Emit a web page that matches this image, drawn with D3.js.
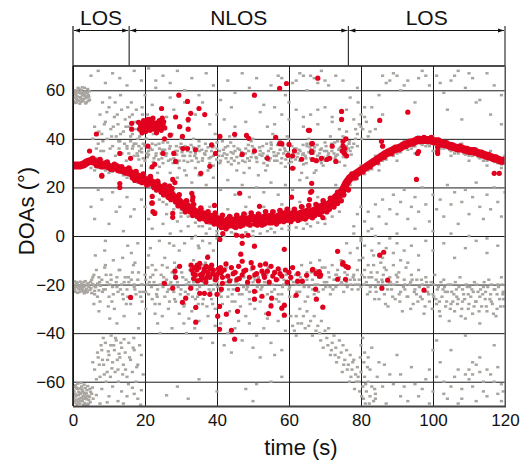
<!DOCTYPE html>
<html><head><meta charset="utf-8">
<script src="https://cdn.jsdelivr.net/npm/d3@7"></script>
<style>html,body{margin:0;padding:0;background:#fff;}svg{display:block;font-family:"Liberation Sans",Arial,sans-serif;}</style>
</head><body>
<svg id="chart" width="521" height="461"></svg>
<script>
// ---------- data ----------
const xTicks = [0, 20, 40, 60, 80, 100, 120];
const yTicks = [-60, -40, -20, 0, 20, 40, 60];
const xLabel = "time (s)";
const yLabel = "DOAs (°)";
const regionLabels = ["LOS", "NLOS", "LOS"];
const regionBounds = [0, 15.6, 76.5, 120];

// main estimated DOA track (time s, DOA deg)
const redTrack = [[0,29],[1,29],[2,29],[3,29.5],[4,30.5],[5,31],[6,30.5],[7,30],[8,29],[9,29.5],[10,28.5],[11,28],[12,28.5],[13,27.5],[14,27],[15,26.5],[16,26],[17,25],[18,24.5],[19,24],[20,23],[21,23],[22,22],[23,21],[24,20],[25,19],[26,18],[27,17.5],[28,16],[29,15],[30,13.5],[31,12.5],[32,12],[33,11],[34,10],[35,9.5],[36,9],[37,8.5],[38,8],[39,7.5],[40,7],[41,6.5],[42,5],[43,6.5],[44,6],[45,6.5],[46,6],[47,7],[48,6.5],[49,7],[50,7.5],[51,7],[52,6.5],[53,7.5],[54,7.5],[55,8],[56,7],[57,8],[58,8.5],[59,9],[60,8],[61,9],[62,8.5],[63,9],[64,9.5],[65,10],[66,9.5],[67,10.5],[68,11],[69,12],[70,12.5],[71,13],[72,14],[73,16],[74,17],[75,19],[76,22],[77,24],[78,25],[79,26],[80,27],[81,28],[82,29],[83,30],[84,31],[85,32],[86,33],[87,34],[88,34.5],[89,35.5],[90,36],[91,36.5],[92,37.5],[93,38],[94,38.5],[95,39],[96,39.5],[97,39.5],[98,39.5],[99,39.5],[100,39],[101,39],[102,38.5],[103,38],[104,37.5],[105,37],[106,36.5],[107,36],[108,36],[109,35.5],[110,35],[111,35],[112,34.5],[113,34],[114,33.5],[115,33],[116,32.5],[117,32],[118,31.5],[119,31],[120,31]];

// red points scattered around the track
const redJitter = [[5.5,32],[6.5,29],[7.5,31.5],[8.5,28.5],[9.5,30.5],[10.5,27.5],[11.5,29.5],[12.5,27],[13.5,28.5],[14.5,26],[15.5,28],[16.5,24],[17.5,26.5],[18.5,22.5],[19.5,25.5],[20.5,21],[21.5,24.5],[22.5,20],[23.5,22.5],[24.5,18],[25.5,21],[26.5,16],[27.5,19.5],[28.5,14],[29.5,17],[30.5,11.5],[31.5,14.5],[32.5,10],[33.5,13],[34.5,8],[35.5,11.5],[36.5,7],[37.5,10],[38.5,6],[39.5,9.5],[40.5,4.5],[41.5,8.5],[42.5,3],[43.5,8],[44.5,4],[45.5,8.5],[46.5,4],[47.5,9],[48.5,5],[49.5,9.5],[50.5,5],[51.5,9],[52.5,4.5],[53.5,10],[54.5,5.5],[55.5,10],[56.5,5],[57.5,10.5],[58.5,6],[59.5,11],[60.5,6],[61.5,11],[62.5,6.5],[63.5,12],[64.5,7],[65.5,12.5],[66.5,7.5],[67.5,13],[68.5,9],[69.5,14.5],[70.5,10],[71.5,15.5],[72.5,12],[73.5,18],[74.5,14.5],[75.5,21],[76.5,19],[77.5,25.5],[78.5,24],[79.5,27],[80.5,26.5],[81.5,29],[82.5,28.5],[83.5,31],[84.5,30.5],[85.5,33],[86.5,32.5],[87.5,35],[88.5,34],[89.5,36.5],[90.5,35.5],[91.5,37.5],[92.5,37],[93.5,39],[94.5,38],[95.5,40],[96.5,39],[97.5,40.5],[98.5,39],[99.5,40.5],[100.5,38.5],[101.5,39.5],[102.5,37.5],[103.5,38.5],[104.5,36.8],[105.5,37.5],[106.5,35.8],[107.5,37],[108.5,35.2],[109.5,36],[110.5,34.5],[111.5,35.5],[112.5,33.8],[113.5,34.5],[114.5,32.8],[115.5,33.5],[116.5,31.8],[117.5,32.5],[118.5,30.8],[119.5,31.5],
[17.2,23],[19.2,22],[21.2,21.5],[23.2,19],[25.2,17],[27.2,15],[29.2,12.5],[31.2,10],[33.2,8.5],[35.2,7],[37.2,6],[39.2,5],[41.2,3.5],[43.2,4],[45.2,3.5],[47.2,4.5],[49.2,4.5],[51.2,4.5],[53.2,5],[55.2,5.5],[57.2,6],[59.2,6.5],[61.2,7],[63.2,7],[65.2,8],[67.2,8.5],[69.2,10],[71.2,11],[73.2,14],[75.2,17]];

// isolated red estimates
const redOutliers = [[6.5,42],[4.6,35],[8,24.6],[13,34],[16,32],[13,21.6],[13,20],[8,25],[16.3,46.4],[16.3,44],[29.4,58],[24.6,52.5],[31.8,55.4],[35,52.5],[32.7,50.5],[28.5,49],[32,48],[36.6,50],[29.6,45],[32,44],[30.4,41],[25.4,40],[27,41.5],[31.8,36],[30.5,36],[34,35.5],[28,34],[25,34],[20.8,37],[22.7,29.5],[22,28.5],[28.5,30.7],[35.5,25.8],[27.7,23.3],[28.3,22],[26.8,20.5],[33,17.6],[33.3,16],[22,16.3],[22,13.6],[22.7,9.3],[27.7,9.3],[39.6,34],[40.8,41],[38,28.7],[38.5,37.5],
[18.5,44],[19,46],[19.5,45],[20,47],[20.5,44.5],[21,46],[21.5,45],[22,47],[22.5,44],[23,46.5],[23.5,45],[24,47.5],[24.5,43.5],[25,46],[25.5,44.5],[19.2,42.5],[21.2,48],[23.2,42.5],[24.8,48.5],[20.2,43],[22.2,48.5],
[18.8,45.5],[19.6,47.5],[20.4,46],[21.4,43.5],[22.4,46.5],[23.4,44],[24.2,46],[25.2,47],[18.2,46.8],[19.8,44],[21.8,44.5],[22.8,45.5],[23.8,47],[20.8,48],[24.5,45],
[59.3,62.8],[57.4,60.8],[68,65],[50.4,58],[74.6,51.3],[74.6,48],[65.4,43.5],[44.9,41.9],[48.2,41.4],[48.8,40.2],[56.3,40.6],[75,37],[75,39],[75.4,34],[57.4,38],[60,37.7],[66.5,38],[72,37],[50.4,35],[61.5,35],[67.6,31],[69,32],[70.5,31.5],[71.3,32],[54,32],[47,33.6],[73,30.7],[63.5,31.6],[58,38],[59.7,33.2],[61,33],[61,27.9],[66.3,34.4],[66.6,31.5],[66.3,21.7],[66.3,18.4],[60.7,16],[51.8,12.2],[46.3,17.6],[39.3,12.6],[33.2,14.7],[21.9,13.5],[22.2,10],[27.7,7.7],[45.4,0.3],[41.6,1],[48.6,0.3],[58,7.3],[65.7,43.5],[66.3,38],[66.3,35],[69.4,7.6],[65.7,15],[66,18],[73.5,13.4],[75.5,36],[76,33],[75.8,40],[74.8,35],
[117,25.8],[118.4,25.8],[95.4,23.3],[85.7,39],[86,37],[93,51],[85.2,47.6],[95.7,34],[96,34.8],[101.3,36.5],[101.3,35],[101.3,34],
[16,-25.3],[28.3,-14.5],[29.6,-12.5],[25.4,-19.5],[27.7,-21.5],[28.5,-17],[30.4,-27.3],[31.3,-25.6],[32.7,-21.5],[34.1,-29.4],[34.1,-35.5],[35.2,-11.3],[37.4,-8.8],[40.8,-1.4],[35.2,-23.6],[36.5,-23.6],[38,-24],[40,-24],[40.2,-33],[40.7,-38.4],
[33,-14],[34,-16],[35,-13],[36,-15.5],[37,-12.5],[38,-17],[39,-14],[40,-16],[41,-13],[33.5,-17.5],[34.5,-12],[35.5,-18],[36.5,-13.5],[37.5,-15],[38.5,-12],[39.5,-18],[40.5,-15],[41.5,-17],[32.8,-12],[36.8,-17.5],[38.8,-15.5],
[33.4,-15.5],[34.4,-14],[35.4,-16],[36.4,-14.5],[37.4,-16.5],[38.4,-13.5],[39.4,-16],[40.4,-13.5],[33.8,-13],[35.8,-17],[37.8,-13],[39.8,-17.5],[41.2,-15],[34.6,-18.5],[36.9,-19],
[47,0],[47,-3],[50.4,-4.2],[46.6,-7.5],[47,-10.4],[58.7,-5.5],[73.5,-6.3],[74.9,-11.6],[76.4,-12.9],[66.6,-13.7],[68.4,-14.7],[68.8,-16],[64.9,-16.2],[67.6,-15.4],[62.4,-18.6],[63.7,-18.6],[73.5,-17.8],[75.7,-17.8],[67.4,-21.9],[62,-24.4],[67.6,-26],[69.4,-29.3],[52.5,-24.8],[55.2,-25.6],[55,-28.8],[58,-29.7],[58.7,-28.5],[58.7,-32.6],[54.3,-32],[50.4,-26],[45.7,-31],[42.6,-32.2],[44,-38.8],[44.9,-42.5],[40.7,-29],[41.2,-21.9],[41.5,-19.5],[45.7,-22],[50.4,-22.8],
[42,-14],[43,-16.5],[44,-13],[45,-15],[46,-12.5],[47,-16],[48,-14],[49,-17],[50,-13],[51,-15.5],[52,-12],[53,-16],[54,-14.5],[55,-12.5],[56,-15],[57,-13.5],[58,-16.5],[59,-14],[60,-15],[61,-13],[43.5,-18.5],[45.5,-18],[48.5,-19],[51.5,-18.5],[54.5,-19],[56.5,-18],[59.5,-19],[42.5,-11.5],[49.5,-11],[53.5,-11.5],
[44.5,-15.5],[47.5,-14.5],[50.5,-16],[52.5,-14.5],[55.5,-16.5],[57.5,-15.5],[60.5,-17],[62.5,-15.5],[46.2,-17.5],[53.2,-17],
[85.2,-7.9],[86.3,-6.7],[87.4,-18.2],[85.8,-21.5],[97.5,-22.3],[75,-11],[75.8,-12.5],[76.4,-13],[66.5,-14],[67.5,-15.5],[68.5,-16.6]];

// grey (non-tracked) estimates
const grayPoints = [
[0.3,57],[0.8,58],[1.2,56],[1.6,59],[2.1,57],[2.5,58.5],[3.0,56.5],[3.4,59.5],[3.9,57.5],[4.3,58],[0.5,60],[1.0,55],[1.4,61],[1.9,54.5],[2.3,60],[2.8,55.5],[3.2,61],[3.7,55],[4.1,60.5],[4.6,56],[0.2,55.5],[0.7,59],[1.1,57.5],[1.5,55.8],[2.0,58.8],[2.4,56.2],[2.9,59.2],[3.3,57.8],[3.8,58.9],[4.2,55.6],[0.4,58.6],[0.9,56.6],[1.3,59.8],[1.8,57.2],[2.2,55.2],[2.7,57.9],[3.1,58.3],[3.6,56.8],[4.0,59.1],[4.4,57.1],[0.6,54.8],[1.7,60.6],[2.6,61.2],[3.5,54.6],[4.5,59.6],
[0.3,-20],[0.8,-21],[1.2,-19.5],[1.7,-22],[2.1,-20.5],[2.6,-21.5],[3.0,-19],[3.5,-22.5],[3.9,-20],[4.4,-21],[0.5,-22],[1.0,-19],[1.5,-20.8],[1.9,-23],[2.4,-19.8],[2.8,-22.8],[3.3,-20.6],[3.7,-21.8],[4.2,-19.4],[4.7,-22.2],[0.2,-21.3],[0.7,-23],[1.1,-20.2],[1.6,-21.7],[2.0,-18.8],[2.5,-22.3],[2.9,-20.9],[3.4,-18.6],[3.8,-23.2],[4.3,-20.3],[5.0,-21.5],[5.5,-19.8],[6.0,-22.6],[5.2,-23.5],[5.8,-20.4],[0.4,-18.7],[1.3,-23.4],[2.2,-21.1],[3.1,-23.6],[4.0,-22.9],[4.9,-18.9],[6.3,-21],[6.8,-19.6],[7.2,-22.4],[7.6,-20.5],
[0.3,-64],[0.8,-66],[1.2,-63],[1.7,-67],[2.1,-65],[2.6,-68],[3.0,-64.5],[3.5,-66.5],[3.9,-63.5],[4.4,-67.5],[0.5,-68.5],[1.0,-62.5],[1.5,-65.5],[1.9,-69],[2.4,-62],[2.8,-66],[3.3,-68.8],[3.7,-64.8],[4.2,-65.8],[4.7,-63],[0.2,-66.8],[0.7,-61.5],[1.1,-69.3],[1.6,-64.2],[2.0,-67.8],[2.5,-63.2],[2.9,-69.5],[3.4,-62.6],[3.8,-67.2],[4.3,-69.1],[0.4,-62.2],[0.9,-67.4],[1.4,-68.2],[1.8,-62.8],[2.3,-66.6],[2.7,-64],[3.2,-65.2],[3.6,-69.6],[4.1,-61.8],[4.6,-66.2],[0.6,-65],[1.3,-60.8],[2.2,-60.5],[3.1,-61.2],[4.0,-70],[4.8,-68.4],[5.2,-65],[5.6,-67],[0.1,-63.6],[0.1,-68],[1.9,-64.6],[2.9,-67],[3.9,-66],[4.9,-64.2],[5.4,-62.4],
[6,-55],[7,-50],[7.5,-58],[8,-47],[8.5,-53],[9,-44],[9.5,-56],[10,-49],[10.5,-45],[11,-52],[11.5,-47],[12,-43],[12.5,-55],[13,-50],[13.5,-46],[14,-53],[14.5,-48],[15,-58],[15.5,-44],[16,-51],[16.5,-56],[17,-47],[18,-53],[19,-49],[8.2,-51],[9.8,-47.5],[10.8,-54.5],[11.8,-42],[12.8,-48.5],[13.8,-57],[9.2,-60],[6.5,-59],[14.2,-42.5],[17.5,-60],[5.5,-52],[7.8,-45],
[8,-63],[10,-66],[11,-62],[12.5,-68],[13.5,-64],[15,-66],[16.5,-62.5],[18,-67],[19,-63.5],[9.5,-68.5],[14,-69],[17,-65],[6.5,-65.5],[7.5,-69],[18.8,-69.5],
[5.5,-17],[6,-24],[6.5,-14],[7,-20],[7.5,-27],[8,-18],[8.5,-22],[9,-12],[9.5,-19],[10,-25],[10.5,-16],[11,-21],[11.5,-30],[12,-19],[12.5,-23],[13,-14],[13.5,-20],[14,-26],[14.5,-17],[15,-22],[15.5,-19],[16,-28],[16.5,-15],[17,-21],[17.5,-24],[18,-18],[18.5,-32],[19,-20],[19.5,-23],[20,-16],[6.2,-8],[8.8,-6],[10.2,-34],[12.2,-36],[13.8,-9],[15.2,-4],[17.2,-11],[18.2,-38],[7.2,-31],[9.8,-29],[11.2,-10],[14.2,-33],[16.2,-7],[19.2,-27],[5.8,-28],[20.2,-30],[21,-8],[22,-12],
[20.5,-20],[21,-24],[21.5,-17],[22,-26],[22.5,-19],[23,-14],[23.5,-22],[24,-28],[24.5,-16],[25,-21],[25.5,-25],[26,-18],[26.5,-30],[27,-20],[27.5,-15],[28,-23],[28.5,-27],[29,-19],[29.5,-32],[30,-22],[30.5,-17],[31,-28],[31.5,-20],[32,-24],[32.5,-14],[33,-31],[33.5,-19],[34,-26],[34.5,-22],[35,-35],[35.5,-18],[36,-28],[36.5,-24],[37,-20],[37.5,-33],[38,-16],[38.5,-26],[39,-22],[39.5,-30],[40,-19],[21.5,-5],[23.5,-36],[25.5,-9],[27.5,-38],[29.5,-6],[31.5,-40],[33.5,-10],[35.5,-42],[37.5,-8],[39.5,-37],[24.2,-40],[26.8,-3],[30.8,-36],[34.8,-4],[38.8,-44],[22.8,-32],[28.2,-11],[32.2,-34],[36.2,-12],[24.8,-33],[26.2,-13],[33.8,-38],[37.2,-29],
[40.5,-24],[41,-16],[41.5,-28],[42,-20],[42.5,-13],[43,-25],[43.5,-31],[44,-18],[44.5,-22],[45,-27],[45.5,-15],[46,-20],[46.5,-29],[47,-24],[47.5,-17],[48,-33],[48.5,-21],[49,-26],[49.5,-14],[50,-19],[50.5,-30],[51,-23],[51.5,-17],[52,-27],[52.5,-21],[53,-15],[53.5,-32],[54,-24],[54.5,-19],[55,-28],[55.5,-16],[56,-22],[56.5,-26],[57,-18],[57.5,-14],[58,-24],[58.5,-20],[59,-29],[59.5,-15],[60,-22],[60.5,-18],[61,-13],[61.5,-25],[62,-20],[62.5,-16],[63,-23],[63.5,-12],[64,-19],[64.5,-27],[65,-15],[65.5,-21],[66,-11],[66.5,-18],[67,-24],[67.5,-14],[68,-20],[68.5,-10],[69,-17],[69.5,-22],[70,-13],[70.5,-19],[71,-15],[71.5,-24],[72,-12],[72.5,-18],[73,-21],[73.5,-14],[74,-17],[74.5,-10],[75,-20],[75.5,-15],[76,-19],[76.5,-13],[77,-18],[77.5,-22],[78,-16],[78.5,-20],[79,-14],[79.5,-18],[80,-21],
[41,-36],[43,-40],[45,-38],[47,-43],[49,-36],[51,-41],[53,-38],[55,-44],[57,-35],[59,-39],[61,-37],[62,-41],[60.5,-33],[61.5,-39],[62.5,-36],[42,-45],[46,-35],[50,-46],[54,-34],[58,-47],[44,-48],[52,-50],[56,-49],
[63,-30],[64,-33],[65,-31],[66,-35],[67,-33],[68,-37],[68.5,-40],[69,-35],[70,-39],[70.5,-42],[71,-38],[72,-44],[72.5,-41],[73,-46],[74,-43],[74.5,-48],[75,-45],[75.5,-51],[76,-47],[76.5,-53],[77,-49],[77.5,-55],[78,-51],[78.5,-57],[79,-54],[79.5,-60],[80,-56],[80.5,-62],[81,-58],[81.5,-64],[82,-60],[82.5,-66],[83,-62],[83.5,-68],[84,-65],[79.8,-50],[80.8,-52],[81.8,-54],[80.2,-66],[81.2,-69],[78.2,-63],[76.8,-60],[74.8,-56],[73.2,-52],[71.5,-49],[69.5,-46],[66.5,-41],[64.5,-38],
[48,-63],[55,-60],[50,-68],[58,-58],[29,-62],[26,-65.6],[35,-59],[40,-64],[32,-67],[51,-61],
[80.5,-9],[81,-14],[81.5,-19],[82,-12],[82.5,-23],[83,-17],[83.5,-8],[84,-21],[84.5,-15],[85,-26],[85.5,-11],[86,-19],[86.5,-24],[87,-14],[87.5,-29],[88,-17],[88.5,-22],[89,-12],[89.5,-26],[90,-19],[90.5,-15],[91,-23],[91.5,-31],[92,-18],[92.5,-13],[93,-25],[93.5,-20],[94,-16],[94.5,-28],[95,-22],[95.5,-18],[96,-14],[96.5,-25],[97,-20],[97.5,-32],[98,-17],[98.5,-23],[99,-27],[99.5,-19],[100,-24],[100.5,-16],[101,-28],[101.5,-21],[102,-33],[102.5,-25],[103,-18],[103.5,-29],[104,-23],[104.5,-35],[105,-20],[105.5,-27],[106,-31],[106.5,-22],[107,-26],[107.5,-17],[108,-30],[108.5,-24],[109,-34],[109.5,-21],[110,-28],[110.5,-25],[111,-32],[111.5,-19],[112,-27],[112.5,-23],[113,-36],[113.5,-29],[114,-21],[114.5,-26],[115,-31],[115.5,-18],[116,-24],[116.5,-28],[117,-22],[117.5,-33],[118,-20],[118.5,-26],[119,-17],[119.5,-23],[119.8,-29],
[100.2,-20],[101.2,-22],[102.2,-19],[103.2,-21],[104.2,-20],[105.2,-23],[106.2,-19],[107.2,-21],[108.2,-22],[109.2,-20],[110.2,-21],[111.2,-23],[112.2,-20],[113.2,-22],[114.2,-19],[115.2,-21],[116.2,-20],[117.2,-22],[118.2,-21],[119.2,-20],[80.2,-16],[82.2,-17],[84.2,-18],[86.2,-16],[88.2,-19],[90.2,-17],[92.2,-20],[94.2,-18],[96.2,-21],[98.2,-19],
[76,-3],[77,-7],[78,1],[79,-5],[80,-1],[81,-4],[82,2],[83,-6],[84,0],[85,-3],[86,-9],[87,-5],[88,-1],[89,-7],[90,-3],[91,-10],[92,-6],[93,-11],[94,-4],[96,-8],[98,-2],[100,-6],[103,-3],[106,-9],[109,-5],[112,-2],[115,-7],[118,-4],[83.5,-12],[86.5,-13],[79.5,-10],
[80,-45],[81,-48],[80.5,-42],[82,-50],[83,-46],[85,-52],[88,-57],[90,-49],[92,-62],[94,-54],[96,-66],[98,-59],[100,-64],[102,-52],[104,-67],[106,-58],[108,-63],[110,-55],[112,-68],[114,-60],[116,-57],[118,-65],[119,-61],[101,-43],[105,-47],[109,-41],[113,-50],[117,-45],[86,-62],[84,-67],[87,-69],[91,-66],[95,-61],[99,-69],[103,-60],[107,-69],[111,-62],[115,-66],[119,-68],[112,-53],[109,-57],[111,-52],[113,-56],[110,-59],
[6,45],[7,38],[7.5,50],[8,42],[8.5,35],[9,47],[9.5,40],[10,53],[10.5,44],[11,37],[11.5,49],[12,41],[12.5,46],[13,39],[13.5,52],[14,43],[14.5,48],[15,36],[15.5,45],[16,41],[16.5,50],[17,38],[17.5,44],[18,40],[18.5,47],[19,42],[19.5,38],[20,44],[6.5,32],[9.2,30],[11.8,33],[14.8,31],[17.8,34],[10.2,57],[13.2,58],[16.2,55],[19.2,53],[8.2,55],[5.5,40],[12.8,36],
[5,66],[7,68],[9,63],[11,67],[13,65],[15,62],[17,68],[19,64],[21,69],[23,61],[25,66],[27,63],[29,68],[31,60],[33,65],[35,58],[37,67],[39,62],[41,56],[43,64],[45,59],[47,67],[49,61],[51,65],[53,54],[55,62],[57,66],[59,58],[61,63],[63,67],[65,60],[67,65],[69,68],[71,62],[73,66],[75,64],[77,57],[79,61],[81,49],[83,53],[85,58],[87,63],[89,67],[91,60],[93,64],[95,55],[97,68],[99,62],[101,66],[103,59],[105,64],[107,68],[109,61],[111,65],[113,56],[115,67],[117,62],[119,58],[28,52],[32,47],[36,55],[40,50],[44,53],[48,47],[52,51],[56,46],[60,55],[64,49],[68,52],[72,47],[76,43],[78,48],[80,45],[82,41],[84,44],[86,50],[104,52],[108,48],[112,55],[116,50],[119,46],[62,64],[66,66],[70,64],[64,66],[68,63],[58,65],[86,66],[88,64],[90,66],[92,62],[96,65],[98,66],[106,66],[110,67],[102,63],
[18,33],[19,36],[20,31],[21,35],[22,38],[23,33],[24,36],[25,30],[26,34],[27,37],[28,32],[29,35],[30,38],[31,33],[32,36],[33,31],[34,34],[35,37],[36,32],[37,35],[38,30],[39,33],[40,36],[41,31],[42,34],[43,37],[44,32],[45,35],[46,30],[47,33],[48,36],[49,31],[50,34],[51,32],[52,35],[53,30],[54,33],[55,36],[56,31],[57,34],[58,32],[59,35],[60,30],[61,33],[62,36],[63,31],[64,34],[65,37],[66,32],[67,35],[68,33],[69,36],[70,31],[71,34],[72,37],[73,33],[74,36],[75,34],[76,37],[77,35],
[20.5,34],[22.5,32],[24.5,34],[26.5,31],[28.5,35],[30.5,33],[32.5,33],[34.5,36],[36.5,34],[38.5,35],[40.5,33],[42.5,32],[44.5,34],[46.5,33],[48.5,32],[50.5,35],[52.5,33],[54.5,31],[56.5,33],[58.5,34],[60.5,32],[62.5,34],[64.5,33],[66.5,35],[68.5,34],[70.5,35],[72.5,34],[74.5,35],[76.5,36],[78,38],
[21.5,28],[25.5,40],[29.5,28],[33.5,40],[37.5,27],[41.5,39],[45.5,27],[49.5,39],[53.5,27],[57.5,39],[61.5,28],[65.5,40],[69.5,29],[73.5,39],[23.5,26],[31.5,25],[39.5,42],[47.5,26],[55.5,42],[63.5,26],[71.5,41],[27.5,42],[35.5,25],[43.5,41],[51.5,25],[59.5,41],[67.5,27],[75.5,29],
[6,27],[8,31],[10,26],[12,29],[14,25],[16,28],[18,22],[20,25],[22,20],[24,22],[26,16],[28,18],[30,11],[32,14],[34,8],[36,11],[38,5],[40,9],[42,3],[44,8],[46,4],[48,9],[50,5],[52,9],[54,5],[56,10],[58,6],[60,11],[62,7],[64,12],[66,8],[68,13],[70,10],[72,16],[74,14],[76,20],[78,23],[80,29],[82,27],[84,33],[86,31],[88,36],[90,34],[92,39],[94,36],[96,41],[98,37],[100,41],[102,36],[104,39],[106,34],[108,38],[110,33],[112,36],[114,31],[116,35],[118,30],[120,33],
[25,14],[30,8],[35,4],[40,2],[45,1],[50,2],[55,3],[60,4],[65,5],[70,7],[27,21],[33,17],[38,12],[43,11],[48,12],[53,12],[58,13],[63,14],[68,16],[73,21],[85,27],[90,31],[95,34],[100,35],[105,33],[110,31],[115,29],[119,28],
[78,4],[79,9],[80,12],[81,6],[82,10],[83,3],[84,13],[85,8],[86,15],[87,5],[88,11],[89,17],[90,9],[91,14],[92,19],[93,7],[94,12],[95,16],[96,10],[97,20],[98,13],[99,6],[100,17],[101,11],[102,15],[103,8],[104,21],[105,13],[106,18],[107,5],[108,14],[109,19],[110,9],[111,16],[112,22],[113,12],[114,7],[115,17],[116,11],[117,20],[118,14],[119,8],[120,18],[80,-2],[90,1],[100,2],[110,0],[95,3],[105,1],[115,-1],
[20,12],[21,7],[22,3],[23,10],[24,-2],[25,5],[26,9],[27,1],[28,-4],[29,6],[30,2],[31,-3],[32,4],[33,-1],[34,0],[35,-5],[36,-2],[37,1],[38,-3],[39,-6],[40,-1],[10,5],[12,10],[14,2],[16,8],[18,-3],[8,15],[11,18],[13,12],[15,16],[17,11],[19,15],[6,7],[9,-2],[7,19],[5,12],
[27,26],[29,24],[31,27],[33,22],[35,25],[37,21],[39,24],[41,19],[43,23],[45,17],[47,21],[49,16],[51,20],[53,18],[55,22],[57,17],[59,21],[61,19],[63,23],[65,24],[67,26],
[60,48],[62,52],[64,45],[66,50],[68,46],[70,53],[72,49],[74,44],[76,52],[58,50],[56,53],[54,45],[45,45],[42,48],[38,46],[34,50],[30,45],[26,49],[22,54],[20,58],[23,64],[27,57],[31,55],
[79,42],[79.5,46],[80,50],[80.5,44],[81,53],[79.2,55],[80.2,40],[81.5,47],[82.5,43],[78.5,44]];

// more grey estimates in the densest bands
const grayPoints2 = [
[15,37],[15.5,34],[16,39],[16.5,36],[17,33],[17.5,38],[18.5,35],[19.5,32],[20,37],[21,33.5],[22,35.5],[23,37.5],[23.8,31.5],[24.8,35.5],[25.8,33],[26.8,36],[27.8,30],[28.8,33.5],[29.8,36.5],[30.8,31],[31.8,35],[32.8,37.5],[33.8,33],[34.8,30.5],[35.8,35.5],[36.8,38],[37.8,32],[38.8,36.5],[39.8,34],[40.8,30],[41.8,35.5],[42.8,33.5],[43.8,38.5],[44.8,31],[45.8,36],[46.8,34.5],[47.8,30.5],[48.8,35],[49.8,37],[50.8,32.5],[51.8,36.5],[52.8,34],[53.8,38],[54.8,32],[55.8,34.5],[56.8,37.5],[57.8,30],[58.8,36],[59.8,33],[60.8,37],[61.8,31.5],[62.8,35.5],[63.8,33.5],[64.8,30],[65.8,36.5],[66.8,34],[67.8,37.5],[68.8,31],[69.8,35],[70.8,33],[71.8,38],[72.8,32],[73.8,35.5],[74.8,38],[75.8,32.5],[76.8,39],[77.5,36.5],[78.5,40],[79,37],[16.5,42],[18.5,41],[20.5,40],[25,38.5],[30,40],[35,39],[40,38.5],[45,41],[50,40],[55,38.5],[60,40],[65,38],[70,38.5],[75,41],[19,29],[24,28.5],[29,30],[34,28],[39,29],[44,29.5],[49,28],[54,29],[59,28.5],[64,29.5],[69,30],[74,30.5],
[5,28],[7,28],[9,27],[11,26.5],[13,26],[15,24],[17,22.5],[19,21.5],[21,20.5],[23,18.5],[25,16.5],[27,15],[29,12.5],[31,10],[33,8.5],[35,7],[37,6],[39,5],[41,4],[43,3.5],[45,4],[47,4.5],[49,4.5],[51,4.5],[53,5],[55,5.5],[57,5.5],[59,6.5],[61,6.5],[63,7],[65,7.5],[67,8],[69,9.5],[71,10.5],[73,13],[75,16],[77,21],[79,23.5],[81,25.5],[83,27.5],[85,29.5],[87,31.5],[89,33],[91,34.5],[93,35.5],[95,37],[97,37.5],[99,37],[101,37],[103,36],[105,35],[107,34],[109,33.5],[111,33],[113,32],[115,31],[117,30.5],[119,29.5],
[24,15],[26,13],[28,11],[30,9.5],[32,8],[34,5.5],[36,4],[38,3],[40,0.5],[42,0],[44,1.5],[46,0.5],[48,1.5],[50,0],[52,1],[54,2],[56,1.5],[58,3],[60,2.5],[62,3.5],[64,3],[66,4],[68,5.5],[70,5],[72,8],[74,10],
[6.5,36],[7.2,43],[8.3,39],[9.4,51],[10.3,36],[11.2,45],[12.3,50],[13.2,42],[14.3,38],[15.2,53],[16.3,44],[17.2,47],[18.3,37],[19.3,50],[20.3,40],[21.3,46],[22.3,42],[8.7,46],[10.7,41],[12.7,39],[14.7,45],[16.7,37],[18.7,43],[20.7,50],[7.7,35],[11.7,55],[15.7,49],[19.7,45],[13.6,34],[17.6,52],
[5.2,-18],[6.2,-21],[7.2,-17],[8.2,-23],[9.2,-16],[10.2,-20],[11.2,-24],[12.2,-17],[13.2,-22],[14.2,-19],[15.2,-25],[16.2,-18],[17.2,-22],[18.2,-15],[19.2,-20],[20.2,-23],[21.2,-19],[22.2,-16],[23.2,-24],[24.2,-20],[25.2,-17],[26.2,-23],[27.2,-19],[28.2,-26],[29.2,-21],[30.2,-15],[31.2,-23],[32.2,-19],[33.2,-25],[34.2,-17],[35.2,-21],[36.2,-26],[37.2,-18],[38.2,-23],[39.2,-20],[6.8,-25],[8.8,-13],[10.8,-27],[12.8,-14],[14.8,-28],[16.8,-12],[18.8,-25],[20.8,-13],[22.8,-28],[24.8,-12],[26.8,-27],[28.8,-13],[30.8,-29],[32.8,-12],[34.8,-28],[36.8,-11],[38.8,-28],
[40.2,-21],[41.2,-25],[42.2,-17],[43.2,-22],[44.2,-27],[45.2,-19],[46.2,-24],[47.2,-14],[48.2,-22],[49.2,-28],[50.2,-17],[51.2,-21],[52.2,-25],[53.2,-19],[54.2,-13],[55.2,-23],[56.2,-18],[57.2,-27],[58.2,-21],[59.2,-16],[60.2,-25],[61.2,-19],[62.2,-23],[63.2,-17],[64.2,-21],[65.2,-25],[66.2,-15],[67.2,-20],[68.2,-23],[69.2,-13],[70.2,-21],[71.2,-17],[72.2,-22],[73.2,-16],[74.2,-20],[75.2,-23],[76.2,-16],[77.2,-20],[78.2,-18],[79.2,-22],
[80.8,-20],[81.8,-24],[82.8,-15],[83.8,-26],[84.8,-19],[85.8,-22],[86.8,-28],[87.8,-20],[88.8,-25],[89.8,-16],[90.8,-27],[91.8,-21],[92.8,-25],[93.8,-30],[94.8,-23],[95.8,-27],[96.8,-18],[97.8,-29],[98.8,-24],[99.8,-30],[100.8,-26],[101.8,-31],[102.8,-22],[103.8,-27],[104.8,-30],[105.8,-24],[106.8,-28],[107.8,-33],[108.8,-26],[109.8,-30],[110.8,-22],[111.8,-27],[112.8,-31],[113.8,-24],[114.8,-29],[115.8,-26],[116.8,-32],[117.8,-24],[118.8,-29],[119.6,-26],
[6.8,-48],[7.3,-53],[8.7,-57],[9.6,-51],[10.4,-58],[11.3,-45],[11.7,-56],[12.3,-51],[13.3,-44],[14.6,-55],[15.7,-50],[16.7,-46],[17.7,-54],[18.5,-45],[19.5,-57],[10.6,-41],[12.6,-60],[15.4,-61],[8.4,-42],[16.9,-42],
[62,-33],[63.5,-36],[65.5,-37],[67.5,-39],[68.8,-43],[70.8,-45],[71.8,-47],[72.8,-49],[73.8,-50],[75.2,-53],[76.2,-55],[77.2,-58],[78.7,-60],[79.6,-64],[80.7,-67],[82.3,-69],[77.7,-52],[79.2,-58],[81.3,-61],[83.8,-63],
[82.5,-55],[84.5,-58],[86.5,-53],[89,-61],[91,-57],[93,-68],[97,-63],[99,-55],[101,-58],[103,-65],[105,-62],[107,-55],[108,-67],[111,-57],[114,-64],[115,-55],[117,-60],[118,-54],[119.5,-64],[100,-47]];

// third set of grey estimates (dense bands)
const grayPoints3 = [
[18.3,31.5],[19.1,34.5],[19.9,37.5],[20.7,32.5],[21.5,36],[22.3,30.5],[23.1,34],[23.9,38],[24.7,32],[25.5,35.5],[26.3,38.5],[27.1,31.5],[27.9,34.5],[28.7,37],[29.5,31],[30.3,34.5],[31.1,37],[31.9,30.5],[32.7,34.5],[33.5,36.5],[34.3,32],[35.1,35],[35.9,31],[36.7,33.5],[37.5,36.5],[38.3,32.5],[39.1,37],[39.9,31.5],[40.7,35],[41.5,33],[42.3,36.5],[43.1,30.5],[43.9,34.5],[44.7,37],[45.5,32.5],[46.3,35.5],[47.1,31],[47.9,34],[48.7,37.5],[49.5,32.5],[50.3,36],[51.1,30.5],[51.9,33.5],[52.7,37],[53.5,32],[54.3,35],[55.1,37.5],[55.9,33],[56.7,31],[57.5,35.5],[58.3,37],[59.1,31.5],[59.9,34.5],[60.7,30.5],[61.5,36],[62.3,32.5],[63.1,35],[63.9,37.5],[64.7,32],[65.5,34.5],[66.3,31],[67.1,36.5],[67.9,33],[68.7,35.5],[69.5,32.5],[70.3,37],[71.1,32],[71.9,35],[72.7,38.5],[73.5,33.5],[74.3,36.5],[75.1,32.5],[75.9,35],[76.7,38],[77.3,33.5],
[5.8,-16],[7.4,-19],[9.0,-22],[10.6,-18],[12.2,-21],[13.8,-24],[15.4,-17],[17.0,-20],[18.6,-23],[20.2,-18],[21.8,-21],[23.4,-25],[25.0,-19],[26.6,-22],[28.2,-16],[29.8,-24],[31.4,-18],[33.0,-21],[34.6,-25],[36.2,-19],[37.8,-22],[39.4,-17],[41.0,-23],[42.6,-19],[44.2,-24],[45.8,-17],[47.4,-21],[49.0,-23],[50.6,-18],[52.2,-22],[53.8,-16],[55.4,-20],[57.0,-24],[58.6,-18],[60.2,-21],[61.8,-16],[63.4,-20],[65.0,-18],[66.6,-22],[68.2,-17],[69.8,-19],[71.4,-21],[73.0,-16],[74.6,-19],[76.2,-21],[77.8,-17],[79.4,-20],[81.0,-17],[82.6,-21],[84.2,-23],[85.8,-18],[87.4,-22],[89.0,-20],[90.6,-24],[92.2,-22],[93.8,-19],[95.4,-24],[97.0,-26],[98.6,-21],[100.2,-25],[101.8,-27],[103.4,-23],[105.0,-28],[106.6,-25],[108.2,-27],[109.8,-24],[111.4,-29],[113.0,-25],[114.6,-23],[116.2,-27],[117.8,-30],[119.4,-24],
[80.6,26],[82.6,28],[84.6,30],[86.6,32],[88.6,33.5],[90.6,35],[92.6,36],[94.6,37],[96.6,38],[98.6,38],[100.6,37.5],[102.6,37],[104.6,35.5],[106.6,35],[108.6,34],[110.6,33.5],[112.6,32.5],[114.6,32],[116.6,31],[118.6,30]];

// ---------- drawing ----------
const plot = {left: 73, right: 505, top: 66, bottom: 406};
const x = d3.scaleLinear().domain([0, 120]).range([plot.left, plot.right]);
const y = d3.scaleLinear().domain([-70, 70]).range([plot.bottom, plot.top]);
const svg = d3.select("#chart");
const grayColor = "#a8a49f";
const redColor = "#e1001e";
const font = '"Liberation Sans",Arial,sans-serif';

const defs = svg.append("defs");
defs.append("clipPath").attr("id", "clip")
  .append("rect").attr("x", plot.left).attr("y", plot.top)
  .attr("width", plot.right - plot.left).attr("height", plot.bottom - plot.top);

// grid via axes
const gx = svg.append("g").attr("transform", `translate(0,${plot.bottom})`)
  .call(d3.axisBottom(x).tickValues(xTicks).tickSize(-(plot.bottom - plot.top)).tickFormat(""));
gx.select(".domain").remove();
gx.selectAll("line").attr("stroke", "#1a1a1a").attr("stroke-width", 1);
const gy = svg.append("g").attr("transform", `translate(${plot.left},0)`)
  .call(d3.axisLeft(y).tickValues(yTicks).tickSize(-(plot.right - plot.left)).tickFormat(""));
gy.select(".domain").remove();
gy.selectAll("line").attr("stroke", "#1a1a1a").attr("stroke-width", 1);

const pts = svg.append("g").attr("clip-path", "url(#clip)");
pts.selectAll("rect.g").data(grayPoints.concat(grayPoints2, grayPoints3)).join("rect").attr("class", "g")
  .attr("x", d => x(d[0]) - 1.6).attr("y", d => y(d[1]) - 1.25)
  .attr("width", 3.2).attr("height", 2.5).attr("fill", grayColor);

pts.append("path").datum(redTrack)
  .attr("d", d3.line().x(d => x(d[0])).y(d => y(d[1])))
  .attr("fill", "none").attr("stroke", redColor).attr("stroke-width", 8).attr("stroke-linejoin", "round");
pts.selectAll("circle.t").data(redTrack.concat(redJitter)).join("circle").attr("class", "t")
  .attr("cx", d => x(d[0])).attr("cy", d => y(d[1])).attr("r", 2.8).attr("fill", redColor);
pts.selectAll("circle.o").data(redOutliers).join("circle").attr("class", "o")
  .attr("cx", d => x(d[0])).attr("cy", d => y(d[1])).attr("r", 2.6).attr("fill", redColor);

// frame
svg.append("line").attr("x1", plot.left).attr("x2", plot.right).attr("y1", plot.top).attr("y2", plot.top).attr("stroke", "#111").attr("stroke-width", 1.3);
svg.append("line").attr("x1", plot.left).attr("x2", plot.left).attr("y1", plot.top).attr("y2", plot.bottom).attr("stroke", "#111").attr("stroke-width", 1.6);
svg.append("line").attr("x1", plot.right).attr("x2", plot.right).attr("y1", plot.top).attr("y2", plot.bottom).attr("stroke", "#777").attr("stroke-width", 1.3);
svg.append("line").attr("x1", plot.left).attr("x2", plot.right + 1).attr("y1", plot.bottom + 0.5).attr("y2", plot.bottom + 0.5).attr("stroke", "#444").attr("stroke-width", 2.2);

// tick labels
const xl = svg.append("g").attr("transform", `translate(0,${plot.bottom})`)
  .call(d3.axisBottom(x).tickValues(xTicks).tickSize(0).tickPadding(8).tickFormat(d3.format("d")));
xl.select(".domain").remove();
xl.selectAll("text").attr("font-size", 17).attr("fill", "#111").attr("font-family", font);
const yl = svg.append("g").attr("transform", `translate(${plot.left},0)`)
  .call(d3.axisLeft(y).tickValues(yTicks).tickSize(0).tickPadding(8).tickFormat(d3.format("d")));
yl.select(".domain").remove();
yl.selectAll("text").attr("font-size", 17).attr("fill", "#111").attr("font-family", font);

// axis titles
svg.append("text").attr("x", 301).attr("y", 455).attr("text-anchor", "middle")
  .attr("font-size", 22).attr("fill", "#111").text(xLabel);
svg.append("text").attr("transform", "translate(34,211) rotate(-90)").attr("text-anchor", "middle")
  .attr("font-size", 22).attr("fill", "#111").text(yLabel);

// region annotation
defs.append("marker").attr("id", "ah").attr("viewBox", "0 0 10 10").attr("refX", 10).attr("refY", 5)
  .attr("markerWidth", 7).attr("markerHeight", 6).attr("orient", "auto-start-reverse").attr("markerUnits", "userSpaceOnUse")
  .append("path").attr("d", "M0,1.5 L10,5 L0,8.5 Z").attr("fill", "#111");
const ann = svg.append("g");
regionBounds.forEach((b, i) => {
  ann.append("line").attr("x1", x(b)).attr("x2", x(b)).attr("y1", 26).attr("y2", plot.top)
    .attr("stroke", i === 0 ? "#111" : "#333").attr("stroke-width", 1.2);
});
regionLabels.forEach((lab, i) => {
  const a = regionBounds[i], b = regionBounds[i + 1];
  ann.append("line").attr("x1", x(a) + 1).attr("x2", x(b) - 1).attr("y1", 30.5).attr("y2", 30.5)
    .attr("stroke", "#111").attr("stroke-width", 1)
    .attr("marker-start", "url(#ah)").attr("marker-end", "url(#ah)");
  ann.append("text").attr("x", (x(a) + x(b)) / 2).attr("y", 25).attr("text-anchor", "middle")
    .attr("font-size", 21).attr("fill", "#111").text(lab);
});
</script>
</body></html>
